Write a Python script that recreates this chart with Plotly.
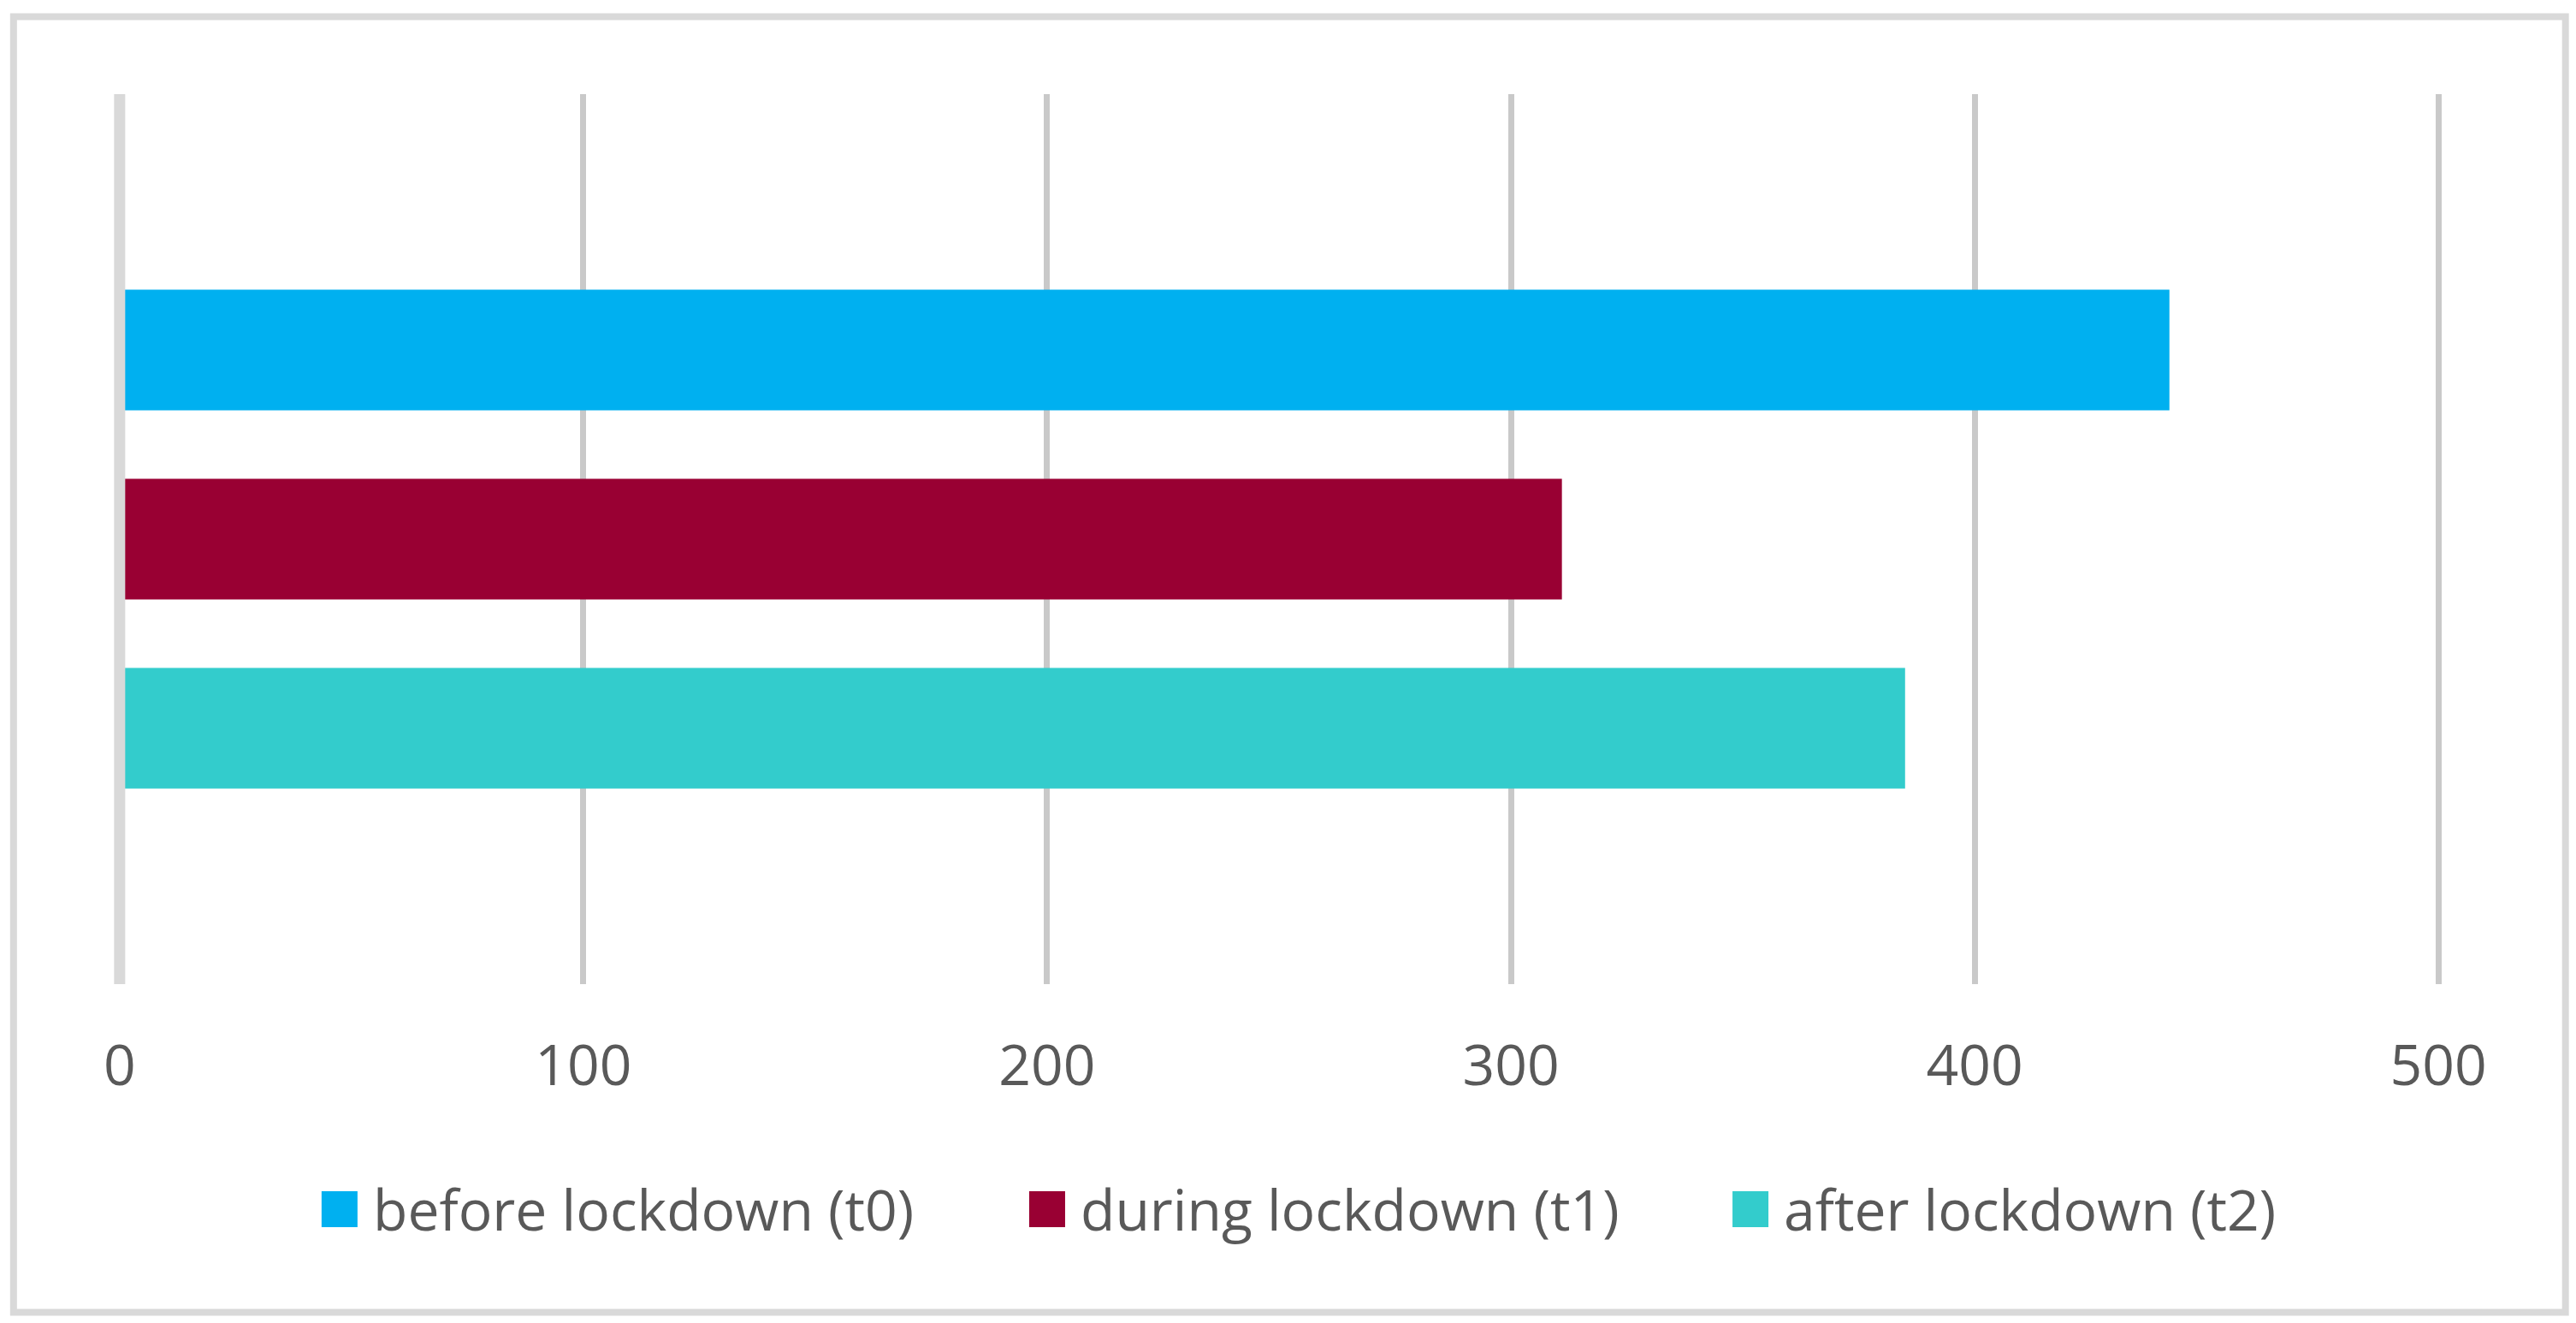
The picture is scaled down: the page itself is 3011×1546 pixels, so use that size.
import plotly.graph_objects as go

# ---- data ----
category = ["Total"]
series_names = ["before lockdown (t0)", "during lockdown (t1)", "after lockdown (t2)"]
series_values = [442, 311, 385]
series_colors = ["#00B0F0", "#990033", "#33CCCC"]
x_ticks = [0, 100, 200, 300, 400, 500]

W, H = 3011, 1546
PX_PER_UNIT = 5.42
X0_PX = 140.0          # pixel position of value 0
RANGE = [-2, 502]
L = X0_PX + RANGE[0] * PX_PER_UNIT
PW = (RANGE[1] - RANGE[0]) * PX_PER_UNIT
R = W - L - PW
T, B = 110, 396
PH = H - T - B
FONT = "Open Sans"
FSIZE = 66


def px(xp):
    return (xp - L) / PW


def py(yp):
    return (H - B - yp) / PH


fig = go.Figure()
for name, val, col in zip(series_names, series_values, series_colors):
    fig.add_trace(go.Bar(
        x=[val], y=category, name=name, orientation="h",
        marker=dict(color=col, line=dict(width=0)),
        showlegend=False, hoverinfo="x+name",
    ))

shapes = []
# vertical axis line at 0
shapes.append(dict(type="line", xref="x", yref="paper", x0=0, x1=0, y0=0, y1=1,
                   line=dict(color="#D9D9D9", width=13), layer="above"))
# outer chart border
shapes.append(dict(type="rect", xref="paper", yref="paper",
                   x0=px(16), x1=px(2998.5), y0=py(1533.5), y1=py(19.5),
                   line=dict(color="#D9D9D9", width=8), layer="below"))

annotations = []
legend_sq_x = [376, 1203, 2025]
for name, col, sx in zip(series_names, series_colors, legend_sq_x):
    shapes.append(dict(type="rect", xref="paper", yref="paper",
                       x0=px(sx), x1=px(sx + 42), y0=py(1434), y1=py(1392),
                       fillcolor=col, line=dict(width=0)))
    annotations.append(dict(xref="paper", yref="paper", x=px(sx + 58), y=py(1412),
                            xanchor="left", yanchor="middle", showarrow=False,
                            text=name, font=dict(family=FONT, size=FSIZE, color="#595959")))

fig.update_layout(
    width=W, height=H,
    margin=dict(l=L, r=R, t=T, b=B, pad=0),
    paper_bgcolor="white", plot_bgcolor="white",
    barmode="group", bargap=0.3625, bargroupgap=0.362,
    font=dict(family=FONT, size=FSIZE, color="#595959"),
    xaxis=dict(range=RANGE, tickvals=x_ticks, ticktext=[str(v) for v in x_ticks],
               showgrid=True, gridcolor="#C9C9C9", gridwidth=7,
               zeroline=False, showline=False,
               ticks="outside", ticklen=38, tickcolor="rgba(0,0,0,0)",
               tickfont=dict(family=FONT, size=FSIZE, color="#595959")),
    yaxis=dict(type="category", range=[0.5, -0.5], showticklabels=False,
               showgrid=False, zeroline=False, showline=False),
    shapes=shapes, annotations=annotations,
    showlegend=False,
)

fig.write_html("out.html", config={"displayModeBar": False},
               post_script="document.body.style.margin='0px';document.body.style.overflow='hidden';")
